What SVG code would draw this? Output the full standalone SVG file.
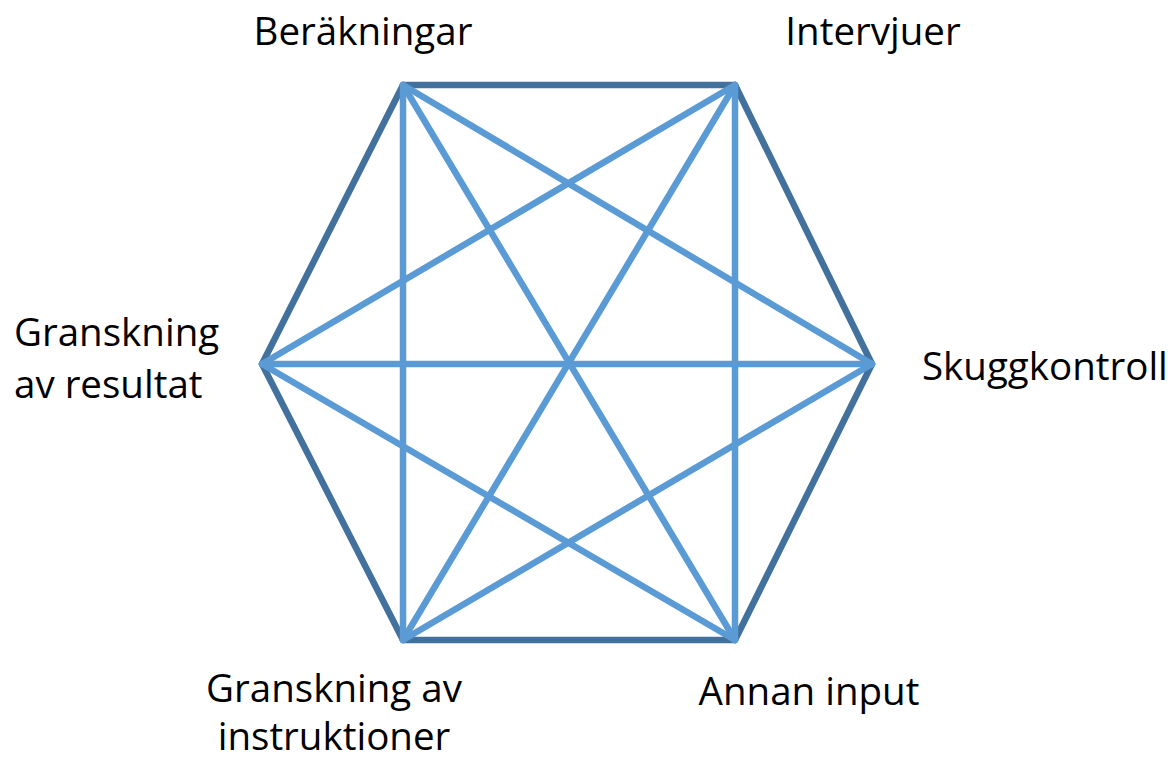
<svg xmlns="http://www.w3.org/2000/svg" width="1168" height="760" viewBox="0 0 1168 760">
<style>
.o{stroke:#41719C;stroke-width:6.5;fill:none;stroke-linecap:round;stroke-linejoin:round}
.i{stroke:#5B9BD5;stroke-width:6.5;fill:none;stroke-linecap:round}
text{font-family:"Open Sans","Liberation Sans",sans-serif;font-size:38.5px;fill:#000}
</style>
<rect width="1168" height="760" fill="#fff"/>
<g id="connectors">
<polygon class="o" points="403,85 735,85 872,364 735,640 403,640 262,364"/>
<line class="i" x1="403" y1="85" x2="403" y2="640"/>
<line class="i" x1="735" y1="85" x2="735" y2="640"/>
<line class="i" x1="262" y1="364" x2="872" y2="364"/>
<line class="i" x1="403" y1="85" x2="735" y2="640"/>
<line class="i" x1="735" y1="85" x2="403" y2="640"/>
<line class="i" x1="403" y1="85" x2="872" y2="364"/>
<line class="i" x1="735" y1="85" x2="262" y2="364"/>
<line class="i" x1="262" y1="364" x2="735" y2="640"/>
<line class="i" x1="872" y1="364" x2="403" y2="640"/>
</g>
<g id="n-berakningar"><text x="363" y="45" text-anchor="middle">Beräkningar</text></g>
<g id="n-intervjuer"><text x="873" y="45" text-anchor="middle">Intervjuer</text></g>
<g id="n-skugg"><text x="922" y="380">Skuggkontroll</text></g>
<g id="n-granskres"><text x="14" y="346">Granskning</text><text x="14" y="398">av resultat</text></g>
<g id="n-granskinstr"><text x="334" y="702" text-anchor="middle">Granskning av</text><text x="334" y="750" text-anchor="middle">instruktioner</text></g>
<g id="n-annan"><text x="809" y="705" text-anchor="middle">Annan input</text></g>
</svg>
